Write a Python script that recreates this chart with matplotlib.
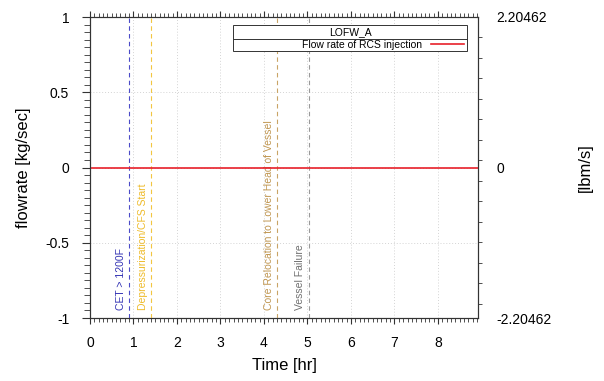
import numpy as np
import matplotlib
matplotlib.use('Agg')
import matplotlib.pyplot as plt
from matplotlib.patches import Rectangle
from matplotlib.lines import Line2D

plt.rcParams['font.family'] = ['Liberation Sans', 'DejaVu Sans']

# data
time_hr = [0.0, 8.92]
flow_kg_s = [0.0, 0.0]
series_label = 'Flow rate of RCS injection'
case_name = 'LOFW_A'

event_times = [0.90, 1.40, 4.30, 5.03]
event_labels = ['CET > 1200F', 'Depressurization/CFS Start',
                'Core Relocation to Lower Head of Vessel', 'Vessel Failure']

x_ticks = [0, 1, 2, 3, 4, 5, 6, 7, 8]
y_ticks = [-1, -0.5, 0, 0.5, 1]
y_ticklabels = ['-1', '-0.5', '0', '0.5', '1']
kg_to_lbm = 2.20462

# styles
event_line_colors = ['#4b4bc8', '#f2c640', '#c9a466', '#9a9a9a']
event_text_colors = ['#3434b4', '#eebb2a', '#c09650', '#707070']

fig = plt.figure(figsize=(6.04, 3.81), dpi=100)
ax = fig.add_axes([90 / 604, 1 - 318 / 381, 388 / 604, 301 / 381])

ax.plot(time_hr, flow_kg_s, color='#e8202a', lw=1.2, label=series_label, zorder=5)

for t, lab, lc, tc in zip(event_times, event_labels, event_line_colors, event_text_colors):
    ax.axvline(t, color=lc, lw=0.8, ls=(0, (4, 3)), zorder=3)
    ax.annotate(lab, xy=(t, -0.947), xytext=(-6, 0), textcoords='offset points',
                rotation=90, ha='center', va='bottom', fontsize=7.5, color=tc)

ax.set_xlim(0, 8.92)
ax.set_ylim(-1, 1)
ax.set_xticks(x_ticks)
ax.set_xticks(np.arange(0, 8.92, 0.1), minor=True)
ax.set_yticks(y_ticks)
ax.set_yticklabels(y_ticklabels)
ax.set_yticks(np.arange(-1, 1.001, 0.05), minor=True)
ax.grid(True, which='major', color='#d4d4d4', ls=(0, (1, 2)), lw=0.7)

for s in ax.spines.values():
    s.set_color('#333333')
    s.set_linewidth(0.8)

ax.tick_params(axis='x', which='both', top=True, direction='out', labelsize=10, colors='#333333',
               labelcolor='black')
ax.tick_params(axis='x', which='major', length=4, pad=9)
ax.tick_params(axis='x', which='minor', length=3)
ax.tick_params(axis='y', which='both', right=False, direction='out', labelsize=10,
               colors='#333333', labelcolor='black')
ax.tick_params(axis='y', which='major', length=6, pad=9)
ax.tick_params(axis='y', which='minor', length=4)

ax.set_xlabel('Time [hr]', fontsize=12, labelpad=6)
ax.set_ylabel('flowrate [kg/sec]', fontsize=12, labelpad=10)

# secondary axis in lbm/s
ax2 = ax.twinx()
ax2.set_ylim(-kg_to_lbm, kg_to_lbm)
ax2.set_yticks([-kg_to_lbm, 0, kg_to_lbm])
ax2.set_yticklabels(['-2.20462', '0', '2.20462'])
ax2.set_yticks(kg_to_lbm - 0.3 * np.arange(0, 15), minor=True)
ax2.tick_params(axis='y', which='major', length=0, pad=13, labelsize=10)
ax2.tick_params(axis='y', which='minor', length=3, colors='#333333')
ax2.set_ylabel('[lbm/s]', fontsize=12, labelpad=19)
for s in ax2.spines.values():
    s.set_color('#333333')
    s.set_linewidth(0.8)

# legend box
bx0, bx1 = (233 - 90) / 388, (467 - 90) / 388
by_top, by_sep, by_bot = (318 - 25) / 301, (318 - 39) / 301, (318 - 51) / 301
ax.add_patch(Rectangle((bx0, by_bot), bx1 - bx0, by_top - by_bot, transform=ax.transAxes,
                       facecolor='white', edgecolor='#333333', lw=0.7, zorder=10))
ax.add_line(Line2D([bx0, bx1], [by_sep, by_sep], transform=ax.transAxes,
                   color='#333333', lw=0.7, zorder=11))
ax.text((bx0 + bx1) / 2, (by_top + by_sep) / 2, case_name, transform=ax.transAxes,
        ha='center', va='center', fontsize=7.5, zorder=12)
leg = ax.legend(loc='center right', bbox_to_anchor=(bx1, (by_sep + by_bot) / 2),
                frameon=False, markerfirst=False, fontsize=7.5, handlelength=3.2,
                handletextpad=0.8, borderpad=0, borderaxespad=0.3)
leg.set_zorder(12)

fig.savefig('out.png', dpi=100)
